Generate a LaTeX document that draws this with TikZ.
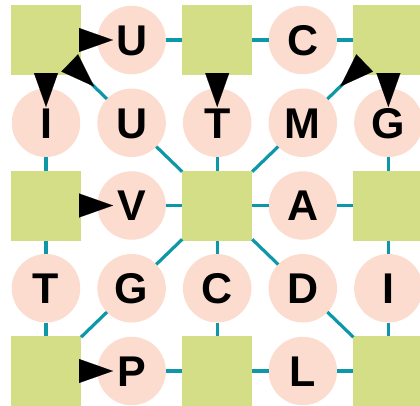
\documentclass[tikz,border=0pt]{standalone}
\usepackage{fontspec}
\setmainfont{Liberation Sans}
\usetikzlibrary{arrows.meta,calc}

\definecolor{vertcarre}{RGB}{212,222,134}
\definecolor{peche}{RGB}{252,220,206}
\definecolor{sarcelle}{RGB}{14,151,168}

\begin{document}
\begin{tikzpicture}[x=85.6pt,y=-82.75pt]
        % Styles pour les cases, les ronds et les liens
        \tikzset{carre/.style={rectangle,fill=vertcarre,minimum size=70pt,inner sep=0pt,outer sep=0pt}}
        \tikzset{rond/.style={circle,fill=peche,minimum size=68.5pt,inner sep=0pt,outer sep=0pt,
            font=\bfseries\fontsize{43}{43}\selectfont,text height=30.5pt,text depth=0pt}}
        \tikzset{lien/.style={sarcelle,line width=3.2pt}}
        \tikzset{fleche/.style={-{Triangle[length=34pt,width=24pt]},black,line width=0.1pt}}

        % Cadre de l'image
        \useasboundingbox (-46pt,40pt) rectangle (374pt,-365pt);
        \clip (-46pt,40pt) rectangle (374pt,-365pt);

        % Les cases vertes
        \foreach \c in {0,2,4}{
            \foreach \r in {0,2,4}{
                \node[carre] (c\c\r) at (\c,\r) {};
            }
        }

        % Les ronds avec leur lettre
        \foreach \c/\r/\t in {1/0/U, 3/0/C,
                              0/1/I, 1/1/U, 2/1/T, 3/1/M, 4/1/G,
                              1/2/V, 3/2/A,
                              0/3/T, 1/3/G, 2/3/C, 3/3/D, 4/3/I,
                              1/4/P, 3/4/L}{
            \node[rond] (r\c\r) at (\c,\r) {\t};
        }

        % Liens entre cases et ronds
        \foreach \a/\b in {c00/r10, c00/r01, c00/r11, r10/c20, c20/r30, r30/c40,
                           c20/r21, c40/r31, c40/r41,
                           r01/c02, r11/c22, r21/c22, r31/c22, r41/c42,
                           c02/r12, r12/c22, c22/r32, r32/c42,
                           c02/r03, r03/c04, r13/c22, r13/c04, r23/c22, r23/c24,
                           r33/c22, r33/c44, r43/c42, r43/c44,
                           c04/r14, r14/c24, c24/r34, r34/c44}{
            \draw[lien] (\a) -- (\b);
        }

        % Pointes de fleche (de la case vers le rond)
        \foreach \a/\b in {c00/r10, c00/r01, c00/r11, c20/r21,
                           c40/r31, c40/r41, c02/r12, c04/r14}{
            \draw[fleche] ($(\a.center)!33pt!(\b.center)$) -- ($(\a.center)!67pt!(\b.center)$);
        }

    \end{tikzpicture}
\end{document}
